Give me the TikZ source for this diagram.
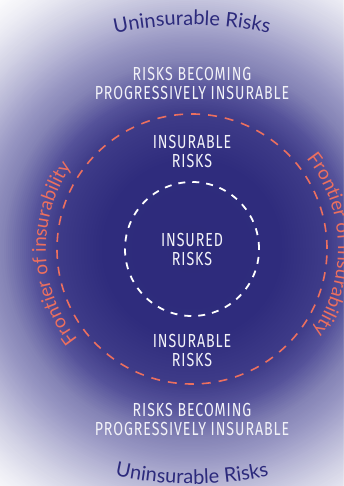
\documentclass[tikz,border=0pt]{standalone}
\usepackage{fontspec}
\usetikzlibrary{decorations.text}

\newfontfamily\curvafont{Lato}
\newfontfamily\condfont[FakeStretch=0.75, LetterSpace=5]{Fira Sans}

\definecolor{tinta}{HTML}{2C2A7C}
\definecolor{salmon}{HTML}{EC6F5F}
\definecolor{blanco}{HTML}{F2F2F8}
\definecolor{g0}{HTML}{2D2A7B}
\definecolor{g1}{HTML}{2F2C7D}
\definecolor{g2}{HTML}{3E3B88}
\definecolor{g3}{HTML}{55529A}
\definecolor{g4}{HTML}{8584B6}
\definecolor{g5}{HTML}{9897C3}
\definecolor{g6}{HTML}{AFAED1}
\definecolor{g7}{HTML}{D0D0E4}
\definecolor{g8}{HTML}{ECECF4}

\tikzset{
	etiqueta/.style= {text=blanco, align=center, font=\condfont\fontsize{18.9}{19}\selectfont},
	frontera/.style= {draw=salmon, line width=1.6pt, dash pattern=on 9pt off 8pt},
	asegurado/.style= {draw=white, line width=1.8pt, dash pattern=on 7pt off 7pt},
}

\begin{document}
\begin{tikzpicture}[x=1pt, y=1pt]
	\useasboundingbox (0,0) rectangle (343,486);
	\coordinate (centro) at (192,237);

	% fondo: aros concentricos
	\begin{scope}
		\clip (0,0) rectangle (343,486);
		\foreach \ra/\ca/\rb/\cb in {320/white/290/g8, 290/g8/260/g7, 260/g7/230/g6,
			230/g6/210/g5, 210/g5/190/g4, 190/g4/160/g3, 160/g3/135/g2, 135/g2/90/g1, 90/g1/0/g0}
			\foreach \i in {0,...,14} {
				\pgfmathsetmacro\rr{\ra-(\ra-\rb)*\i/15}
				\pgfmathtruncatemacro\pp{100*\i/15}
				\fill [\cb!\pp!\ca] (centro) circle (\rr pt);
			}
	\end{scope}

	% circulos
	\draw [frontera] (centro) circle (135pt);
	\draw [asegurado] (centro) circle (67pt);

	% zonas
	\node [etiqueta] (progArriba) at (192,403) {RISKS BECOMING\\PROGRESSIVELY INSURABLE};
	\node [etiqueta] (asegArriba) at (192,335) {INSURABLE\\RISKS};
	\node [etiqueta] (asegurados) at (centro) {INSURED\\RISKS};
	\node [etiqueta] (asegAbajo) at (192,135.5) {INSURABLE\\RISKS};
	\node [etiqueta] (progAbajo) at (192,67) {RISKS BECOMING\\PROGRESSIVELY INSURABLE};

	% textos curvos
	\path [decorate, decoration={text along path, text align=center,
		text={|\curvafont\fontsize{20}{20}\selectfont\color{tinta}|Uninsurable Risks}}]
		(192,101) ++(115:360pt) arc [start angle=115, end angle=65, radius=360pt];
	\path [decorate, decoration={text along path, text align=center,
		text={|\curvafont\fontsize{20}{20}\selectfont\color{tinta}|Uninsurable Risks}}]
		(192,352) ++(245:350pt) arc [start angle=245, end angle=295, radius=350pt];
	\path [decorate, decoration={text along path, text align=center,
		text={|\curvafont\fontsize{19}{19}\selectfont\color{salmon}|Frontier of insurability}}]
		(centro) ++(242:146pt) arc [start angle=242, end angle=122, radius=146pt];
	\path [decorate, decoration={text along path, text align=center,
		text={|\curvafont\fontsize{19}{19}\selectfont\color{salmon}|Frontier of insurability}}]
		(centro) ++(62:146pt) arc [start angle=62, end angle=-58, radius=146pt];
\end{tikzpicture}
\end{document}
